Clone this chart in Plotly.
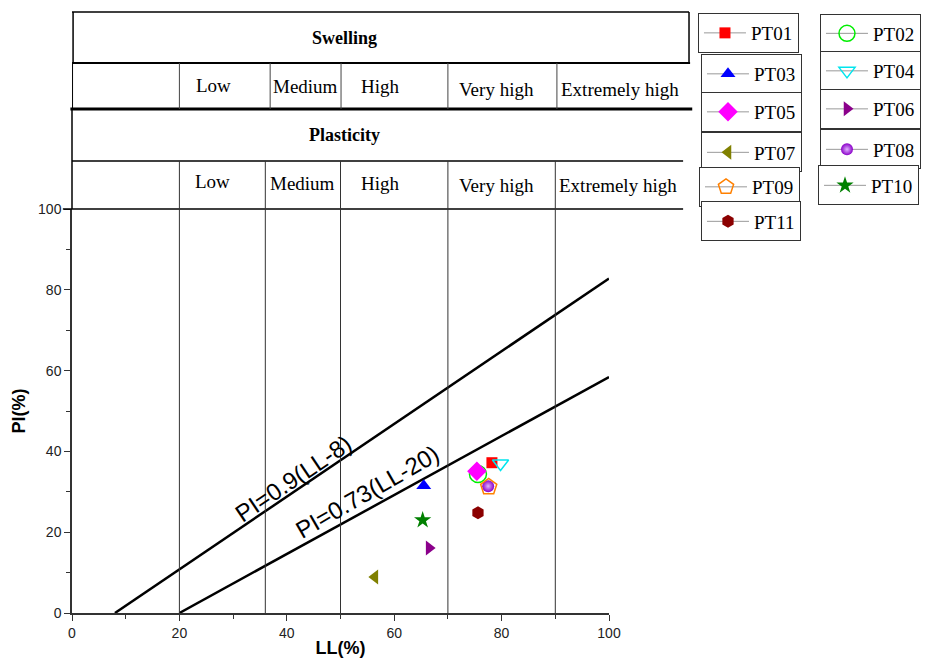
import plotly.graph_objects as go

# ---------------- data ----------------
samples = ["PT01", "PT02", "PT03", "PT04", "PT05", "PT06",
           "PT07", "PT08", "PT09", "PT10", "PT11"]
ll_values = [78.2, 75.6, 65.5, 79.8, 75.4, 66.5, 56.4, 77.5, 77.6, 65.3, 75.6]
pi_values = [37.2, 34.4, 31.5, 37.0, 35.1, 16.1, 8.9, 31.4, 31.2, 23.0, 24.8]

line_a_ll = [8, 100]
line_a_pi = [0, 82.8]
line_b_ll = [20, 100]
line_b_pi = [0, 58.4]
line_a_label = "PI=0.9(LL-8)"
line_b_label = "PI=0.73(LL-20)"

class_labels = ["Low", "Medium", "High", "Very high", "Extremely high"]
plasticity_bounds = [20, 36, 50, 70, 90]
swelling_bounds = [20, 36.9, 50.1, 70, 90.3]

x_ticks = [0, 20, 40, 60, 80, 100]
y_ticks = [0, 20, 40, 60, 80, 100]

# ---------------- styles ----------------
styles = {
    "PT01": dict(symbol="square", color="#ff0000", size=11),
    "PT02": dict(symbol="circle-open", color="#00ee00", size=17),
    "PT03": dict(symbol="triangle-up", color="#0000ff", size=13),
    "PT04": dict(symbol="triangle-down-open", color="#00e5ee", size=14),
    "PT05": dict(symbol="diamond", color="#ff00ff", size=15),
    "PT06": dict(symbol="triangle-right", color="#8b008b", size=13),
    "PT07": dict(symbol="triangle-left", color="#808000", size=13),
    "PT08": dict(symbol="circle", color="#8a00c8", size=12),
    "PT09": dict(symbol="pentagon-open", color="#ff8000", size=17),
    "PT10": dict(symbol="star", color="#008000", size=13),
    "PT11": dict(symbol="hexagon", color="#8b0000", size=13),
}
# legend box centres (paper coords)
legend_pos = {
    "PT01": (1.1657, 1.4356), "PT02": (1.3929, 1.4344),
    "PT03": (1.1713, 1.3342), "PT04": (1.3929, 1.3416),
    "PT05": (1.1713, 1.2401), "PT06": (1.3929, 1.2475),
    "PT07": (1.1713, 1.1399), "PT08": (1.3929, 1.1473),
    "PT09": (1.1676, 1.0545), "PT10": (1.3892, 1.0582),
    "PT11": (1.1713, 0.9691),
}

SERIF = "Liberation Serif, Times New Roman, serif"
SANS = "Liberation Sans, Arial, sans-serif"

fig = go.Figure()

# guide lines
fig.add_trace(go.Scatter(x=line_a_ll, y=line_a_pi, mode="lines",
                         line=dict(color="black", width=2.5),
                         showlegend=False, hoverinfo="skip"))
fig.add_trace(go.Scatter(x=line_b_ll, y=line_b_pi, mode="lines",
                         line=dict(color="black", width=2.5),
                         showlegend=False, hoverinfo="skip"))

layout_legends = {}
for i, (name, ll, pi) in enumerate(zip(samples, ll_values, pi_values)):
    st = styles[name]
    lname = "legend" if i == 0 else f"legend{i+1}"
    marker = dict(symbol=st["symbol"], color=st["color"], size=st["size"],
                  line=dict(color=st["color"], width=1.5 if "open" in st["symbol"] else 0))
    if name == "PT08":
        marker["gradient"] = dict(type="radial", color="#e0b0ff")
    fig.add_trace(go.Scatter(
        x=[ll], y=[pi], mode="lines+markers", name=name,
        marker=marker, line=dict(color="#999999", width=1),
        legend=lname, showlegend=True))
    lx, ly = legend_pos[name]
    layout_legends[lname] = dict(
        x=lx, y=ly, xanchor="left", yanchor="middle",
        bgcolor="white", bordercolor="#333333", borderwidth=1,
        itemwidth=42,
        font=dict(family=SERIF, size=19, color="black"))

shapes = []
def px(ll):
    return ll / 100.0
def hline(x0, x1, y, w):
    shapes.append(dict(type="line", xref="paper", yref="paper", x0=px(x0), x1=px(x1),
                       y0=y, y1=y, line=dict(color="black", width=w)))
def vline(x, y0, y1, w, color="black"):
    shapes.append(dict(type="line", xref="paper", yref="paper", x0=px(x), x1=px(x),
                       y0=y0, y1=y1, line=dict(color=color, width=w)))

# header frame
hline(0, 114.9, 1.4876, 1.5)
hline(0, 115.1, 1.3614, 2)
hline(-0.3, 115.5, 1.2475, 3)
hline(0, 113.8, 1.1188, 1.5)
hline(-1.7, 113.8, 1.0, 1.5)
vline(0.2, 1.3614, 1.4876, 1.5)
vline(114.9, 1.3614, 1.4876, 1.5)
vline(0.1, 1.2475, 1.3614, 1)
vline(0, 1.0, 1.2475, 1.5)
for b in swelling_bounds:
    vline(b, 1.2475, 1.3614, 1, "#444444")
for b in plasticity_bounds:
    vline(b, 0, 1.1188, 1, "#333333")

annotations = []
def header_text(x, y, text, size):
    annotations.append(dict(x=px(x), y=y, xref="paper", yref="paper", text=text,
                            showarrow=False, xanchor="center", yanchor="middle",
                            font=dict(family=SERIF, size=size, color="black")))

header_text(50.8, 1.423, "<b>Swelling</b>", 18)
header_text(50.8, 1.183, "<b>Plasticity</b>", 18)
swell_x = [26.3, 43.4, 57.5, 79.1, 102.0]
swell_y = [1.306, 1.302, 1.302, 1.295, 1.295]
plast_x = [26.1, 43.0, 57.4, 79.0, 101.7]
plast_y = [1.069, 1.062, 1.062, 1.057, 1.057]
for lab, x, y in zip(class_labels, swell_x, swell_y):
    header_text(x, y, lab, 19)
for lab, x, y in zip(class_labels, plast_x, plast_y):
    header_text(x, y, lab, 19)

annotations.append(dict(x=41.2, y=33.4, xref="x", yref="y", text=line_a_label,
                        showarrow=False, textangle=-34,
                        font=dict(family=SANS, size=24, color="black")))
annotations.append(dict(x=55.1, y=30.0, xref="x", yref="y", text=line_b_label,
                        showarrow=False, textangle=-30,
                        font=dict(family=SANS, size=24, color="black")))

axis_common = dict(
    range=[0, 100], showgrid=False, zeroline=False, showline=True,
    linecolor="#333333", linewidth=1.5, ticks="outside", ticklen=6,
    tickcolor="#333333", tickwidth=1.2,
    tickfont=dict(family=SANS, size=14, color="#222222"),
    minor=dict(ticks="outside", ticklen=4, dtick=10, tickcolor="#333333", showgrid=False),
)

fig.update_layout(
    width=925, height=658,
    margin=dict(l=72, r=316, t=209, b=45, autoexpand=False),
    paper_bgcolor="white", plot_bgcolor="white",
    xaxis=dict(axis_common, tickvals=x_ticks, dtick=20,
               title=dict(text="<b>LL(%)</b>", standoff=2,
                          font=dict(family=SANS, size=18, color="black"))),
    yaxis=dict(axis_common, tickvals=y_ticks, dtick=20,
               title=dict(text="<b>PI(%)</b>", standoff=8,
                          font=dict(family=SANS, size=18, color="black"))),
    shapes=shapes, annotations=annotations,
    **layout_legends,
)

fig.write_html("out.html")
